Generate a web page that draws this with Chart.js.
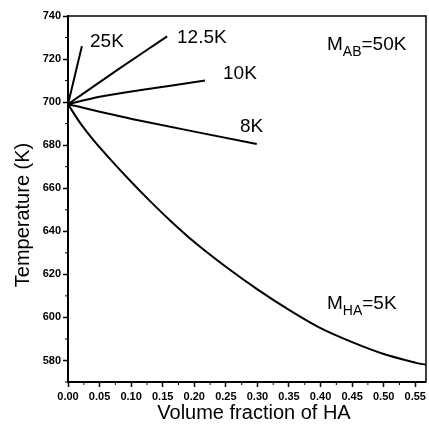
<!DOCTYPE html>
<html>
<head>
<meta charset="utf-8">
<script src="https://cdn.jsdelivr.net/npm/chart.js@4.4.1/dist/chart.umd.min.js"></script>
<style>
  html, body { margin: 0; padding: 0; background: #fff; }
  canvas { display: block; }
</style>
</head>
<body>
<canvas id="chart" width="429" height="430"></canvas>
<script>
// Volume fraction of HA (x) and temperature in K (y), one pair of arrays per curve
const frac25K = [0, 0.022];
const temp25K = [699, 726];

const frac12K = [0, 0.08, 0.157];
const temp12K = [699, 715.3, 730.5];

const frac10K = [0, 0.05, 0.113, 0.217];
const temp10K = [699, 702.5, 705.5, 710];

const frac8K = [0, 0.113, 0.299];
const temp8K = [699, 691.5, 680.5];

const frac5K = [0, 0.02, 0.04, 0.07, 0.10, 0.13, 0.16, 0.20, 0.25, 0.30, 0.35, 0.40, 0.45, 0.50, 0.55, 0.567];
const temp5K = [699, 690, 682.5, 672.5, 663, 654, 645.5, 635, 623.5, 613, 603.5, 595, 588.5, 583, 579, 578];

const xTicks = [0, 0.05, 0.10, 0.15, 0.20, 0.25, 0.30, 0.35, 0.40, 0.45, 0.50, 0.55];
const yTicks = [580, 600, 620, 640, 660, 680, 700, 720, 740];

const toPoints = (xs, ys) => xs.map((x, i) => ({ x: x, y: ys[i] }));

const lineStyle = {
  borderColor: '#000',
  borderWidth: 2,
  pointRadius: 0,
  fill: false,
  tension: 0.3,
};

const tickFont = { family: 'Liberation Sans, Arial, sans-serif', size: 11, weight: 'bold' };
const labelFont = '19px "Liberation Sans", Arial, sans-serif';
const subFont = '14px "Liberation Sans", Arial, sans-serif';

// frame, minor ticks, axis titles and curve labels
const decorations = {
  id: 'decorations',
  afterDraw(chart) {
    const { ctx, chartArea: a, scales } = chart;
    ctx.save();
    ctx.strokeStyle = '#000';
    ctx.lineWidth = 1.5;
    ctx.strokeRect(a.left, a.top, a.right - a.left, a.bottom - a.top);

    // minor ticks halfway between major ones
    ctx.lineWidth = 1;
    ctx.beginPath();
    for (let i = 0; i < xTicks.length; i++) {
      const px = scales.x.getPixelForValue(xTicks[i] + 0.025);
      if (px > a.right) break;
      ctx.moveTo(px, a.bottom);
      ctx.lineTo(px, a.bottom + 3);
    }
    for (let i = 0; i < yTicks.length; i++) {
      const py = scales.y.getPixelForValue(yTicks[i] - 10);
      ctx.moveTo(a.left, py);
      ctx.lineTo(a.left - 3, py);
    }
    ctx.stroke();

    ctx.fillStyle = '#000';
    ctx.font = '20px "Liberation Sans", Arial, sans-serif';
    ctx.textAlign = 'center';
    ctx.textBaseline = 'middle';
    ctx.fillText('Volume fraction of HA', 254, 413);
    ctx.save();
    ctx.translate(23, 215);
    ctx.rotate(-Math.PI / 2);
    ctx.fillText('Temperature (K)', 0, 0);
    ctx.restore();

    ctx.textAlign = 'left';
    ctx.textBaseline = 'alphabetic';
    ctx.font = labelFont;
    ctx.fillText('25K', 90, 47);
    ctx.fillText('12.5K', 177, 43);
    ctx.fillText('10K', 223, 79);
    ctx.fillText('8K', 240, 132);

    const subLabel = (main, sub, rest, x, y) => {
      ctx.font = labelFont;
      ctx.fillText(main, x, y);
      x += ctx.measureText(main).width;
      ctx.font = subFont;
      ctx.fillText(sub, x, y + 6);
      x += ctx.measureText(sub).width;
      ctx.font = labelFont;
      ctx.fillText(rest, x, y);
    };
    subLabel('M', 'AB', '=50K', 327, 50);
    subLabel('M', 'HA', '=5K', 327, 309);
    ctx.restore();
  },
};

new Chart(document.getElementById('chart'), {
  type: 'line',
  data: {
    datasets: [
      { ...lineStyle, label: '25K', data: toPoints(frac25K, temp25K) },
      { ...lineStyle, label: '12.5K', data: toPoints(frac12K, temp12K) },
      { ...lineStyle, label: '10K', data: toPoints(frac10K, temp10K) },
      { ...lineStyle, label: '8K', data: toPoints(frac8K, temp8K) },
      { ...lineStyle, label: '5K', data: toPoints(frac5K, temp5K) },
    ],
  },
  options: {
    responsive: false,
    animation: false,
    layout: { padding: { top: 16, right: 1, left: 0, bottom: 0 } },
    plugins: { legend: { display: false }, tooltip: { enabled: false } },
    scales: {
      x: {
        type: 'linear',
        min: 0,
        max: 0.567,
        afterBuildTicks: (s) => { s.ticks = xTicks.map((v) => ({ value: v })); },
        afterFit: (s) => { s.height = 48; },
        grid: { drawOnChartArea: false, tickLength: 5, tickColor: '#000', tickWidth: 1.5 },
        border: { color: '#000', width: 2 },
        ticks: {
          color: '#000',
          font: tickFont,
          padding: 3,
          maxRotation: 0,
          autoSkip: false,
          callback: (v) => v.toFixed(2),
        },
      },
      y: {
        type: 'linear',
        min: 570,
        max: 740,
        afterBuildTicks: (s) => { s.ticks = yTicks.map((v) => ({ value: v })); },
        afterFit: (s) => { s.width = 68; },
        grid: { drawOnChartArea: false, tickLength: 5, tickColor: '#000', tickWidth: 1.5 },
        border: { color: '#000', width: 2 },
        ticks: { color: '#000', font: tickFont, padding: 2, autoSkip: false },
      },
    },
  },
  plugins: [decorations],
});
</script>
</body>
</html>
